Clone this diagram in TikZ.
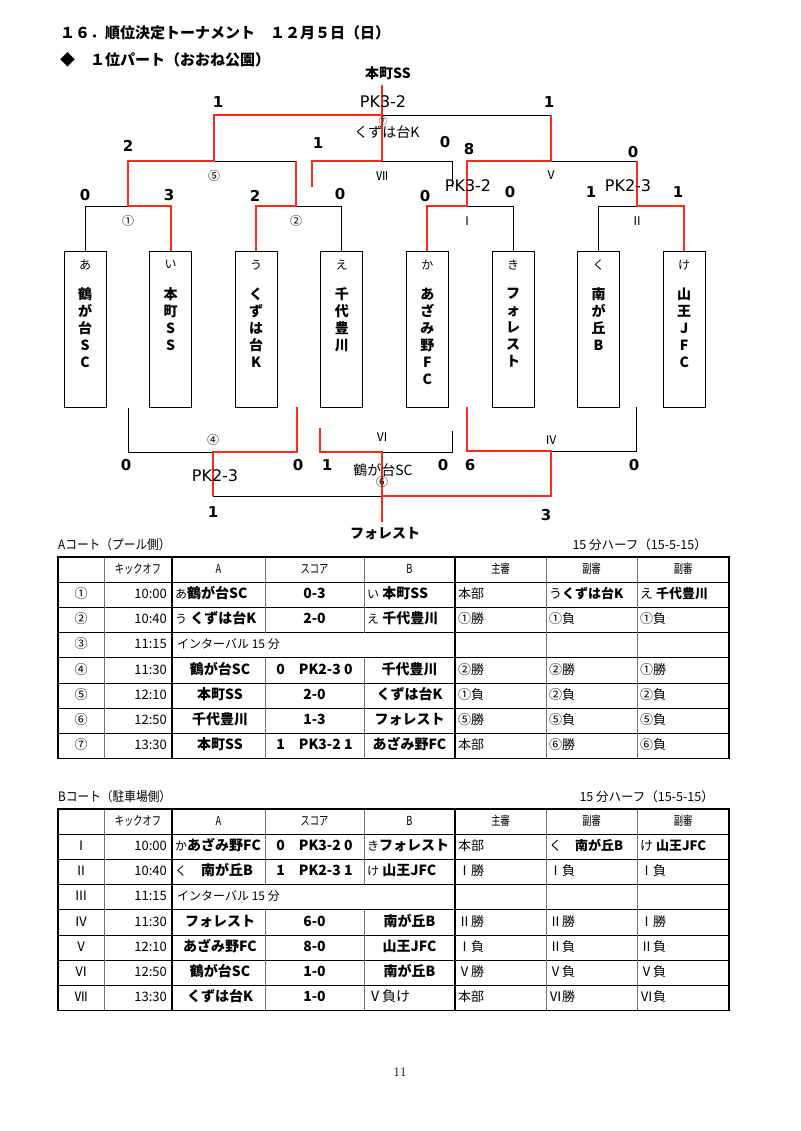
\documentclass[tikz,border=0pt]{standalone}
\usepackage{fontspec}
\usepackage{tikz}
\usetikzlibrary{positioning}
\newfontfamily\cjk{Noto Sans CJK JP}
\newfontfamily\cjknarrow{Noto Sans CJK JP}[FakeStretch=0.74]
\newfontfamily\cjkcourt{Noto Sans CJK JP}[FakeStretch=0.9]
\newfontfamily\lat{DejaVu Sans}
\definecolor{winred}{RGB}{255,40,25}

% table helpers (rows are 25.2 high, \tabtop is the upper edge)
\newcommand\tabtop{557}
\newcommand\drawgrid{%
  \foreach \k in {1,...,7}
    \draw[rowline] (58,\tabtop+\k*25.2) -- (729,\tabtop+\k*25.2);
  \foreach \cx in {104,546,637}
    \draw[colline] (\cx,\tabtop) -- (\cx,\tabtop+201.6);
  \foreach \cx in {265,364} {
    \draw[colline] (\cx,\tabtop) -- (\cx,\tabtop+75.6);
    \draw[colline] (\cx,\tabtop+100.8) -- (\cx,\tabtop+201.6);}
  \foreach \cx in {172,455}
    \draw[boldline] (\cx,\tabtop) -- (\cx,\tabtop+201.6);
  \draw[boldline] (58,\tabtop) rectangle (729,\tabtop+201.6);
  \pgfmathsetmacro\ry{\tabtop+12.6}
  \foreach \cx/\txt in {138/キックオフ,218.5/A,314.5/スコア,409.5/B,500.5/主審,591.5/副審,683/副審}
    \node[headcell] at (\cx,\ry) {\txt};
}
% \abanchor, \abxA, \abxB say where the team cells sit
\newcommand\abanchor{west}
\newcommand\abxA{175}
\newcommand\abxB{367}
\newcommand\matchrow[9]{%
  \pgfmathsetmacro\ry{\tabtop+(#1+0.5)*25.2}
  \node[cell] at (81,\ry) {#2};
  \node[cell,anchor=east] at (167,\ry) {#3};
  \node[teamcell,anchor=\abanchor] at (\abxA,\ry) {#4};
  \node[scorecell] at (314.5,\ry) {#5};
  \node[teamcell,anchor=\abanchor] at (\abxB,\ry) {#6};
  \node[cell,anchor=west] at (458,\ry) {#7};
  \node[cell,anchor=west] at (549,\ry) {#8};
  \node[cell,anchor=west] at (640,\ry) {#9};
}
\newcommand\intervalrow[3]{%
  \pgfmathsetmacro\ry{\tabtop+(#1+0.5)*25.2}
  \node[cell] at (81,\ry) {#2};
  \node[cell,anchor=east] at (167,\ry) {#3};
  \node[pausecell,anchor=west] at (177,\ry) {インターバル 15 分};
}
\newcommand\kana[1]{{\mdseries\fontsize{12}{14}\selectfont #1}}
\newcommand\leftcells{\renewcommand\abanchor{west}\renewcommand\abxA{175}\renewcommand\abxB{367}}
\newcommand\midcells{\renewcommand\abanchor{center}\renewcommand\abxA{220}\renewcommand\abxB{409.5}}

\begin{document}
\begin{tikzpicture}[x=1pt,y=-1pt,
    line/.style={line width=0.9pt},
    win/.style={draw=winred,line width=2pt},
    team/.style={draw,line width=0.9pt,minimum width=42pt,minimum height=156pt,inner sep=0pt},
    kanatxt/.style={font=\cjk\fontsize{12}{14}\selectfont,inner sep=0pt},
    nametxt/.style={font=\cjk\bfseries\fontsize{14}{17}\selectfont,align=center,inner sep=0pt},
    sc/.style={font=\lat\bfseries\fontsize{15}{17}\selectfont,inner sep=0pt},
    pk/.style={font=\lat\fontsize{16}{18}\selectfont,inner sep=0pt},
    lbl/.style={font=\cjk\fontsize{14}{16}\selectfont,inner sep=0pt},
    circ/.style={font=\cjk\fontsize{12}{12}\selectfont,inner sep=0pt},
    heading/.style={font=\cjk\bfseries\fontsize{15}{17}\selectfont,anchor=west,inner sep=0pt},
    rowline/.style={line width=0.8pt},
    colline/.style={line width=0.7pt,black!55},
    boldline/.style={line width=1.6pt},
    cell/.style={font=\cjk\fontsize{13}{15}\selectfont,inner sep=0pt,text height=10pt,text depth=2.5pt},
    headcell/.style={cell,font=\cjknarrow\fontsize{12.5}{15}\selectfont},
    pausecell/.style={cell,font=\cjk\fontsize{12}{15}\selectfont},
    teamcell/.style={cell,font=\cjk\bfseries\fontsize{14}{16}\selectfont},
    scorecell/.style={cell,font=\cjk\bfseries\fontsize{14}{16}\selectfont},
    court/.style={font=\cjkcourt\fontsize{13}{16}\selectfont,inner sep=0pt},
    half/.style={font=\cjk\fontsize{12.5}{16}\selectfont,inner sep=0pt},
  ]
  \useasboundingbox (0,0) rectangle (800,1131);

  % Headings
  \node[heading] (title) at (60,33) {１６．順位決定トーナメント　１２月５日（日）};
  \node[heading] (part) at (60,60) {◆　１位パート（おおね公園）};

  % Team boxes
  \node[team] (ta) at (85,329) {};
  \node[team,right=42.7pt of ta] (ti) {};
  \node[team,right=42.7pt of ti] (tu) {};
  \node[team,right=42.7pt of tu] (te) {};
  \node[team,right=42.7pt of te] (tka) {};
  \node[team,right=42.7pt of tka] (tki) {};
  \node[team,right=42.7pt of tki] (tku) {};
  \node[team,right=42.7pt of tku] (tke) {};
  \foreach \t/\k/\n in {ta/あ/鶴\\が\\台\\S\\C, ti/い/本\\町\\S\\S, tu/う/く\\ず\\は\\台\\K,
      te/え/千\\代\\豊\\川, tka/か/あ\\ざ\\み\\野\\F\\C, tki/き/フ\\ォ\\レ\\ス\\ト,
      tku/く/南\\が\\丘\\B, tke/け/山\\王\\J\\F\\C} {
    \node[kanatxt,below=9pt of \t.north] {\k};
    \node[nametxt,below=37pt of \t.north] {\n};
  }

  % Upper bracket junctions
  \coordinate (m1) at (128,206);
  \coordinate (m2) at (296,206);
  \coordinate (mI) at (467,206);
  \coordinate (mII) at (637,206);
  \coordinate (m5) at (214,161);
  \coordinate (mVII) at (382,161);
  \coordinate (mV) at (551,161);
  \coordinate (m7) at (382,115);
  \coordinate (champ) at (382,85);
  \coordinate (vl) at (312,187);
  \coordinate (vr) at (452,187);

  \draw[line] (ta.north) |- (m1);
  \draw[line] (te.north) |- (m2) -- (m2 |- m5) -- (m5);
  \draw[line] (tki.north) |- (mI);
  \draw[line] (tku.north) |- (mII);
  \draw[line] (mV) -- (mV -| mII);
  \draw[line] (m7) -- (m7 -| mV);
  \draw[line] (vr) |- (mVII);

  \draw[win] (ti.north) |- (m1) |- (m5) |- (m7);
  \draw[win] (tu.north) |- (m2) -- (m2 |- m5);
  \draw[win] (tka.north) |- (mI) |- (mV) -- (mV |- m7);
  \draw[win] (tke.north) |- (mII) -- (mII |- mV);
  \draw[win] (vl) |- (mVII);
  \draw[win] (champ) -- (mVII);

  % Upper labels
  \node[lbl,font=\cjk\bfseries\fontsize{14}{16}\selectfont] (top) at (388,73) {本町SS};
  \node[sc] at (218,102) {1};
  \node[pk] at (383,102) {PK3-2};
  \node[sc] at (549,102) {1};
  \node[circ,font=\cjk\fontsize{9}{9}\selectfont] at (383,121) {⑦};
  \node[lbl] at (387,132) {くずは台K};
  \node[sc] at (128,146) {2};
  \node[sc] at (318,143) {1};
  \node[sc] at (445,142) {0};
  \node[sc] at (469,149) {8};
  \node[sc] at (633,152) {0};
  \node[circ] at (214,176) {⑤};
  \node[circ] at (382,176) {Ⅶ};
  \node[circ] at (551,175) {Ⅴ};
  \node[sc] at (85,195) {0};
  \node[sc] at (169,195) {3};
  \node[sc] at (255,196) {2};
  \node[sc] at (340,194) {0};
  \node[sc] at (425,196) {0};
  \node[pk] at (468,186) {PK3-2};
  \node[sc] at (510,192) {0};
  \node[sc] at (591,192) {1};
  \node[pk] at (628,186) {PK2-3};
  \node[sc] at (678,192) {1};
  \node[circ] at (128,221) {①};
  \node[circ] at (296,221) {②};
  \node[circ] at (467,221) {Ⅰ};
  \node[circ] at (637,221) {Ⅱ};

  % Lower bracket junctions
  \coordinate (l1) at (128,408);
  \coordinate (l2) at (297,407);
  \coordinate (lI) at (467,407);
  \coordinate (lII) at (636,407);
  \coordinate (lVIa) at (320,428);
  \coordinate (lVIb) at (452,431);
  \coordinate (m4) at (213,452);
  \coordinate (mVI) at (382,452);
  \coordinate (mIV) at (551,451);
  \coordinate (m6) at (382,496);
  \coordinate (last) at (382,522);

  \draw[line] (l1) |- (m4);
  \draw[line] (lVIb) |- (mVI);
  \draw[line] (lII) |- (mIV);
  \draw[line] (m4 |- m6) -- (m6);

  \draw[win] (l2) |- (m4) -- (m4 |- m6);
  \draw[win] (lVIa) |- (mVI) -- (last);
  \draw[win] (lI) |- (mIV) |- (m6);

  % Lower labels
  \node[circ] at (213,440) {④};
  \node[circ] at (382,437) {Ⅵ};
  \node[circ] at (551,440) {Ⅳ};
  \node[sc] at (126,465) {0};
  \node[sc] at (298,465) {0};
  \node[sc] at (327,465) {1};
  \node[sc] at (443,465) {0};
  \node[sc] at (470,465) {6};
  \node[sc] at (634,465) {0};
  \node[pk] at (215,476) {PK2-3};
  \node[lbl] at (383,470) {鶴が台SC};
  \node[circ] at (382,482) {⑥};
  \node[sc] at (213,512) {1};
  \node[sc] at (546,515) {3};
  \node[lbl,font=\cjk\bfseries\fontsize{14}{16}\selectfont] (winner) at (385,534) {フォレスト};

  % A court
  \node[court,anchor=west] at (58,545) {Aコート（プール側）};
  \node[half,anchor=east] at (707,545) {15 分ハーフ（15-5-15）};
  \renewcommand\tabtop{557}
  \drawgrid
  \leftcells
  \matchrow{1}{①}{10:00}{\kana{あ}鶴が台SC}{0-3}{\kana{い} 本町SS}{本部}{う\textbf{くずは台K}}{え \textbf{千代豊川}}
  \matchrow{2}{②}{10:40}{\kana{う} くずは台K}{2-0}{\kana{え} 千代豊川}{①勝}{①負}{①負}
  \intervalrow{3}{③}{11:15}
  \midcells
  \matchrow{4}{④}{11:30}{鶴が台SC}{0　PK2-3 0}{千代豊川}{②勝}{②勝}{①勝}
  \matchrow{5}{⑤}{12:10}{本町SS}{2-0}{くずは台K}{①負}{②負}{②負}
  \matchrow{6}{⑥}{12:50}{千代豊川}{1-3}{フォレスト}{⑤勝}{⑤負}{⑤負}
  \matchrow{7}{⑦}{13:30}{本町SS}{1　PK3-2 1}{あざみ野FC}{本部}{⑥勝}{⑥負}

  % B court
  \node[court,anchor=west] at (58,797) {Bコート（駐車場側）};
  \node[half,anchor=east] at (714,797) {15 分ハーフ（15-5-15）};
  \renewcommand\tabtop{809}
  \drawgrid
  \leftcells
  \matchrow{1}{Ⅰ}{10:00}{\kana{か}あざみ野FC}{0　PK3-2 0}{\kana{き}フォレスト}{本部}{く　\textbf{南が丘B}}{け \textbf{山王JFC}}
  \matchrow{2}{Ⅱ}{10:40}{\kana{く}　南が丘B}{1　PK2-3 1}{\kana{け} 山王JFC}{Ⅰ勝}{Ⅰ負}{Ⅰ負}
  \intervalrow{3}{Ⅲ}{11:15}
  \midcells
  \matchrow{4}{Ⅳ}{11:30}{フォレスト}{6-0}{南が丘B}{Ⅱ勝}{Ⅱ勝}{Ⅰ勝}
  \matchrow{5}{Ⅴ}{12:10}{あざみ野FC}{8-0}{山王JFC}{Ⅰ負}{Ⅱ負}{Ⅱ負}
  \matchrow{6}{Ⅵ}{12:50}{鶴が台SC}{1-0}{南が丘B}{Ⅴ勝}{Ⅴ負}{Ⅴ負}
  \matchrow{7}{Ⅶ}{13:30}{くずは台K}{1-0}{\makebox[83pt][l]{\mdseries Ⅴ負け}}{本部}{Ⅵ勝}{Ⅵ負}

  % page number
  \node[font=\fontsize{13}{15}\selectfont] (pageno) at (400,1072) {11};
\end{tikzpicture}
\end{document}
